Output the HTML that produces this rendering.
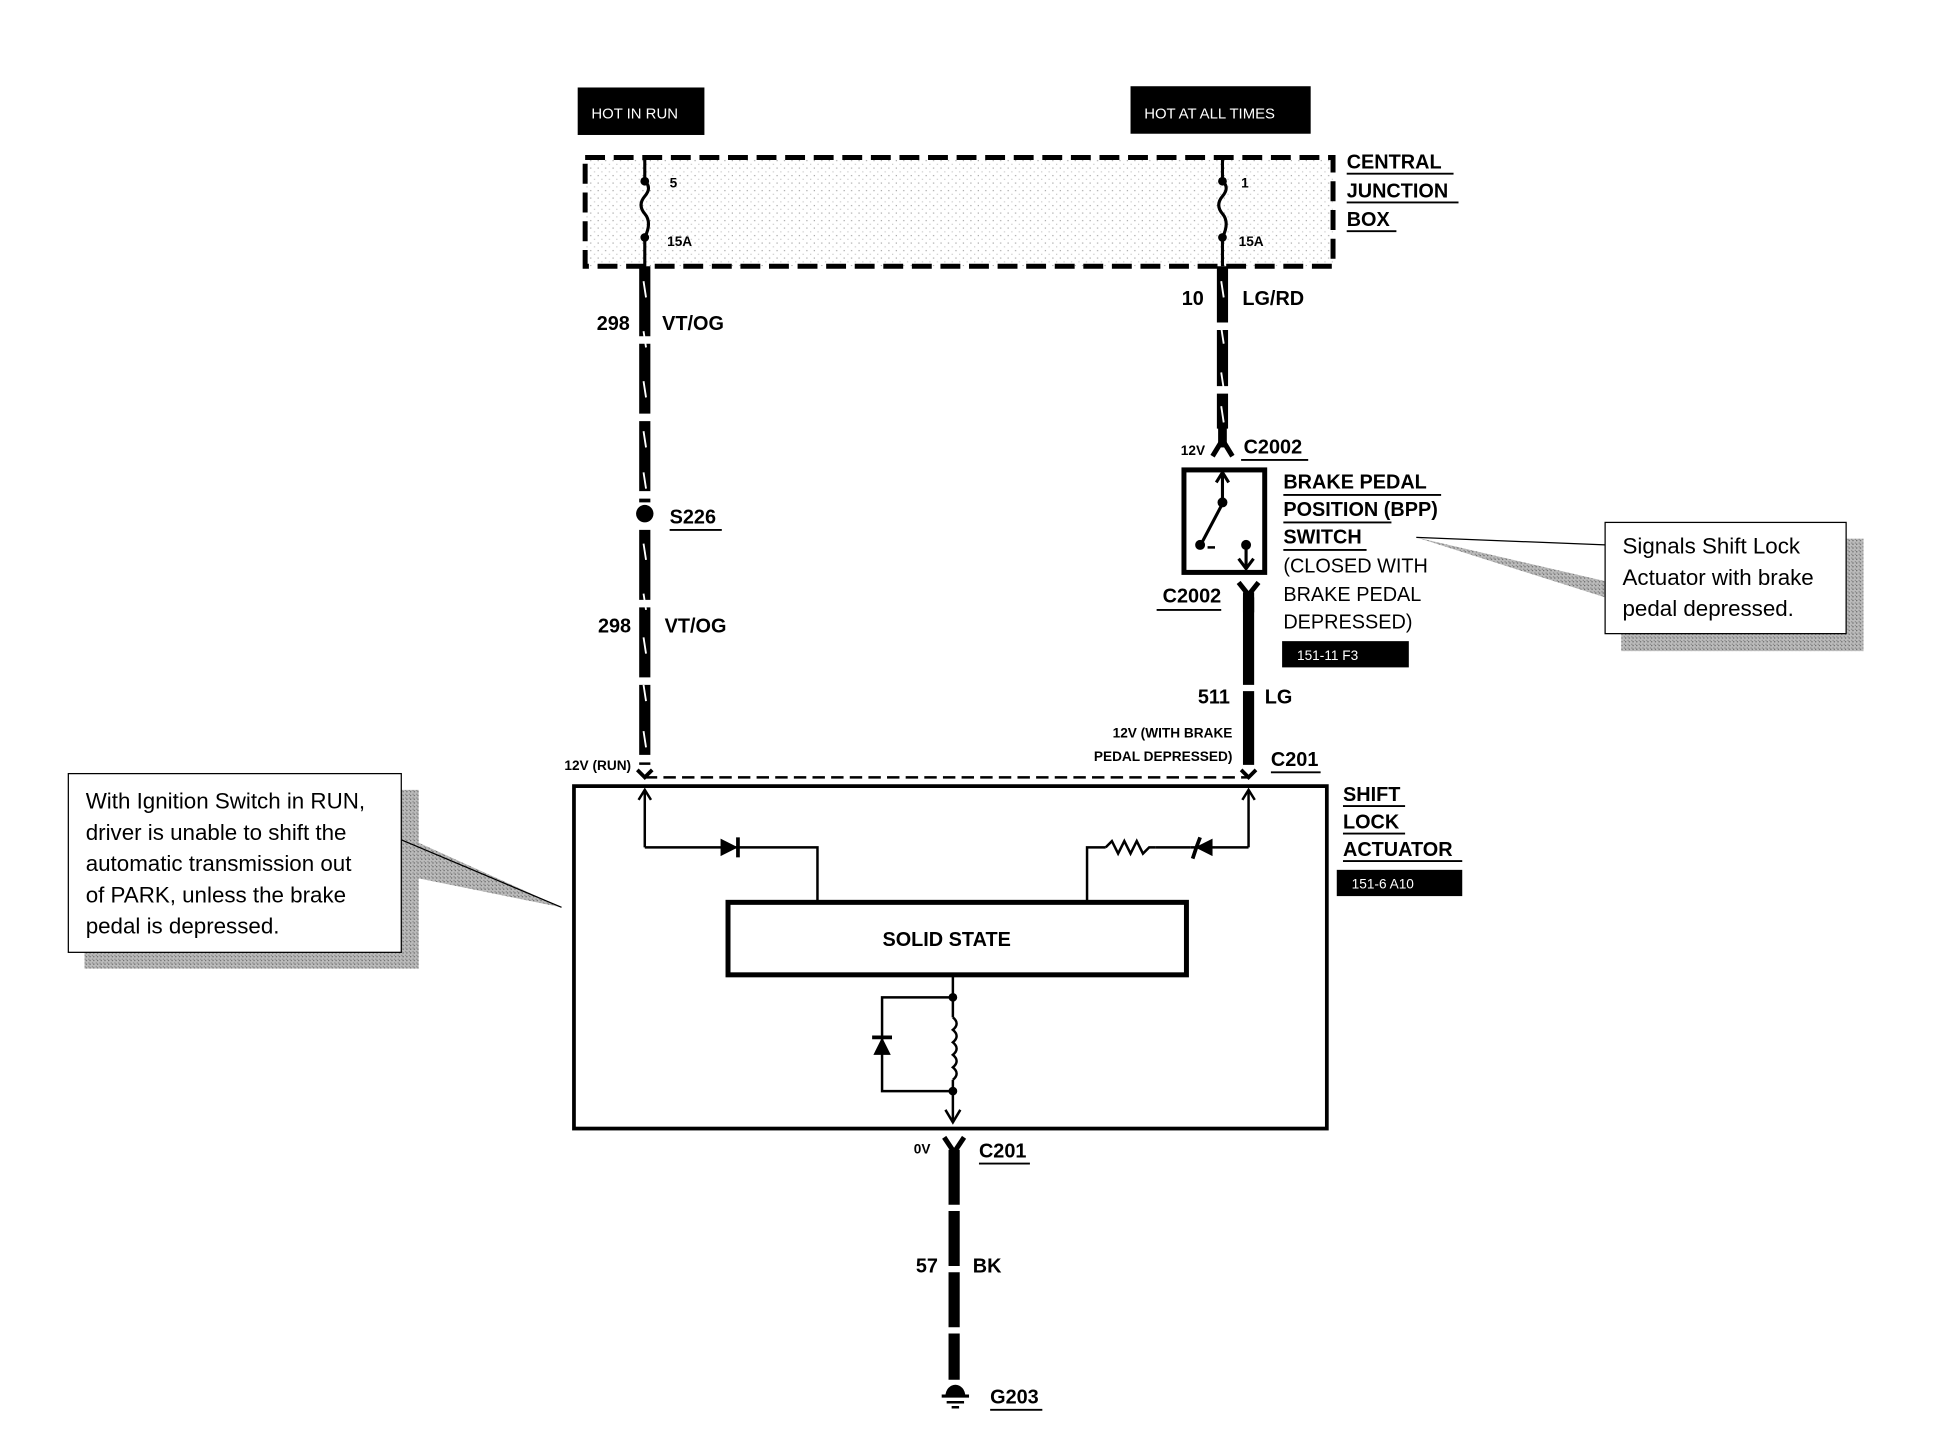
<!DOCTYPE html>
<html><head><meta charset="utf-8"><style>
html,body{margin:0;padding:0;background:#fff;}
svg{display:block;}
text{font-family:"Liberation Sans",sans-serif;fill:#000;}
.b{font-weight:bold;}
</style></head><body>
<svg width="1948" height="1456" viewBox="0 0 1568 1165" preserveAspectRatio="none" xmlns="http://www.w3.org/2000/svg">
<defs>
<pattern id="st" width="6" height="6" patternUnits="userSpaceOnUse"><rect width="6" height="6" fill="#fff"/><rect x="1" y="2" width="1" height="1" fill="#aaa"/><rect x="4" y="5" width="1" height="1" fill="#ccc"/></pattern>
<pattern id="sh" width="3" height="3" patternUnits="userSpaceOnUse"><rect width="3" height="3" fill="#bbb"/><rect width="1" height="1" fill="#666"/><rect x="2" y="2" width="1" height="1" fill="#888"/></pattern>
</defs>
<rect x="465" y="70" width="102" height="38" fill="#000"/>
<text x="476" y="95" font-size="12" style="fill:#fff">HOT IN RUN</text>
<rect x="910" y="69" width="145" height="38" fill="#000"/>
<text x="921" y="95" font-size="12" style="fill:#fff">HOT AT ALL TIMES</text>
<rect x="471" y="126" width="602" height="87" fill="url(#st)" stroke="#000" stroke-width="4" stroke-dasharray="16 7"/>
<text class="b" x="1084" y="135" font-size="16">CENTRAL</text>
<text class="b" x="1084" y="158" font-size="16">JUNCTION</text>
<text class="b" x="1084" y="181" font-size="16">BOX</text>
<line x1="1084" y1="139" x2="1170" y2="139" stroke="#000" stroke-width="1.5"/>
<line x1="1084" y1="162" x2="1174" y2="162" stroke="#000" stroke-width="1.5"/>
<line x1="1084" y1="185" x2="1124" y2="185" stroke="#000" stroke-width="1.5"/>
<g stroke="#000" stroke-width="2.5" fill="none">
<path d="M519 126 V145 q6 5 0 12 q-6 7 0 14 q6 7 0 19 V213"/>
<path d="M984 126 V145 q6 5 0 12 q-6 7 0 14 q6 7 0 19 V213"/>
</g>
<circle cx="519" cy="145" r="3.5"/><circle cx="519" cy="190" r="3.5"/>
<circle cx="984" cy="145" r="3.5"/><circle cx="984" cy="190" r="3.5"/>
<text class="b" x="539" y="150" font-size="11">5</text>
<text class="b" x="537" y="197" font-size="11">15A</text>
<text class="b" x="999" y="150" font-size="11">1</text>
<text class="b" x="997" y="197" font-size="11">15A</text>
<g stroke="#000" stroke-width="9">
<line x1="519" y1="213" x2="519" y2="402" stroke-dasharray="56 6"/>
<line x1="519" y1="424" x2="519" y2="612" stroke-dasharray="56 6"/>
<line x1="984" y1="213" x2="984" y2="343" stroke-dasharray="45 6"/>
<line x1="1005" y1="478" x2="1005" y2="612" stroke-dasharray="70 5"/>
<line x1="768" y1="920" x2="768" y2="1104" stroke-dasharray="44 5"/>
</g>
<g stroke="#fff" stroke-width="1.5">
<line x1="518" y1="225" x2="520" y2="238"/><line x1="518" y1="265" x2="520" y2="278"/><line x1="518" y1="305" x2="520" y2="318"/><line x1="518" y1="345" x2="520" y2="358"/><line x1="518" y1="378" x2="520" y2="391"/>
<line x1="518" y1="435" x2="520" y2="448"/><line x1="518" y1="475" x2="520" y2="488"/><line x1="518" y1="510" x2="520" y2="523"/><line x1="518" y1="548" x2="520" y2="561"/><line x1="518" y1="585" x2="520" y2="598"/>
<line x1="983" y1="225" x2="985" y2="238"/><line x1="983" y1="262" x2="985" y2="275"/><line x1="983" y1="298" x2="985" y2="311"/><line x1="983" y1="325" x2="985" y2="338"/>
</g>
<circle cx="519" cy="411" r="7"/>
<text class="b" x="539" y="419" font-size="16">S226</text>
<line x1="539" y1="424" x2="581" y2="424" stroke="#000" stroke-width="1.5"/>
<text class="b" x="507" y="264" font-size="16" text-anchor="end">298</text>
<text class="b" x="533" y="264" font-size="16">VT/OG</text>
<text class="b" x="508" y="506" font-size="16" text-anchor="end">298</text>
<text class="b" x="535" y="506" font-size="16">VT/OG</text>
<text class="b" x="969" y="244" font-size="16" text-anchor="end">10</text>
<text class="b" x="1000" y="244" font-size="16">LG/RD</text>
<path d="M976 365 L984 352 L992 365" fill="none" stroke="#000" stroke-width="4"/>
<line x1="984" y1="340" x2="984" y2="358" stroke="#000" stroke-width="7"/>
<text class="b" x="970" y="364" font-size="11" text-anchor="end">12V</text>
<text class="b" x="1001" y="363" font-size="16">C2002</text>
<line x1="999" y1="368" x2="1053" y2="368" stroke="#000" stroke-width="1.5"/>
<rect x="953" y="376" width="65" height="82" fill="#fff" stroke="#000" stroke-width="4"/>
<g stroke="#000" stroke-width="2.5" fill="none">
<line x1="984" y1="378" x2="984" y2="400"/><path d="M979 386 L984 378 L989 386"/>
<line x1="984" y1="403" x2="967" y2="435"/>
<line x1="972" y1="438" x2="978" y2="438" stroke-width="2"/>
<line x1="1003" y1="438" x2="1003" y2="455"/><path d="M997 447 L1003 455 L1009 447"/>
</g>
<circle cx="984" cy="402" r="4"/><circle cx="966" cy="436" r="4"/><circle cx="1003" cy="436" r="4"/>
<path d="M997 466 L1005 476 L1013 466" fill="none" stroke="#000" stroke-width="4"/>
<line x1="1005" y1="474" x2="1005" y2="490" stroke="#000" stroke-width="9"/>
<text class="b" x="983" y="482" font-size="16" text-anchor="end">C2002</text>
<line x1="931" y1="488" x2="983" y2="488" stroke="#000" stroke-width="1.5"/>
<text class="b" x="1033" y="391" font-size="16">BRAKE PEDAL</text>
<line x1="1033" y1="396" x2="1160" y2="396" stroke="#000" stroke-width="1.5"/>
<text class="b" x="1033" y="413" font-size="16">POSITION (BPP)</text>
<line x1="1033" y1="418" x2="1120" y2="418" stroke="#000" stroke-width="1.5"/>
<text class="b" x="1033" y="435" font-size="16">SWITCH</text>
<line x1="1033" y1="440" x2="1100" y2="440" stroke="#000" stroke-width="1.5"/>
<text x="1033" y="458" font-size="16">(CLOSED WITH</text>
<text x="1033" y="481" font-size="16">BRAKE PEDAL</text>
<text x="1033" y="503" font-size="16">DEPRESSED)</text>
<rect x="1032" y="513" width="102" height="21" fill="#000"/>
<text x="1044" y="528" font-size="11" style="fill:#fff">151-11 F3</text>
<text class="b" x="990" y="563" font-size="16" text-anchor="end">511</text>
<text class="b" x="1018" y="563" font-size="16">LG</text>
<text class="b" x="992" y="590" font-size="11" text-anchor="end">12V (WITH BRAKE</text>
<text class="b" x="992" y="609" font-size="11" text-anchor="end">PEDAL DEPRESSED)</text>
<text class="b" x="1023" y="613" font-size="16">C201</text>
<line x1="1023" y1="618" x2="1063" y2="618" stroke="#000" stroke-width="1.5"/>
<text class="b" x="508" y="616" font-size="11" text-anchor="end">12V (RUN)</text>
<line x1="519" y1="622" x2="1005" y2="622" stroke="#000" stroke-width="2" stroke-dasharray="10 5"/>
<path d="M513 616 L519 622 L525 616" fill="none" stroke="#000" stroke-width="3"/>
<path d="M999 616 L1005 622 L1011 616" fill="none" stroke="#000" stroke-width="3"/>
<rect x="462" y="629" width="606" height="274" fill="none" stroke="#000" stroke-width="3"/>
<g stroke="#000" stroke-width="2" fill="none">
<line x1="519" y1="632" x2="519" y2="678"/><path d="M514 640 L519 632 L524 640"/>
<polyline points="519,678 658,678 658,722"/>
<line x1="1005" y1="632" x2="1005" y2="678"/><path d="M1000 640 L1005 632 L1010 640"/>
<polyline points="1005,678 875,678 875,722"/>
</g>
<path d="M580 671 L594 678 L580 685 Z" fill="#000"/><line x1="594" y1="670" x2="594" y2="686" stroke="#000" stroke-width="3"/>
<rect x="890" y="674" width="40" height="8" fill="#fff"/>
<path d="M890 678 L895 673 L900 683 L905 673 L910 683 L915 673 L920 683 L925 678 L930 678" fill="none" stroke="#000" stroke-width="2"/>
<rect x="958" y="670" width="20" height="16" fill="#fff"/>
<path d="M976 671 L962 678 L976 685 Z" fill="#000"/><path d="M966 670 L963 678 L960 687" stroke="#000" stroke-width="3" fill="none"/>
<line x1="958" y1="678" x2="978" y2="678" stroke="#000" stroke-width="2"/>
<rect x="586" y="722" width="369" height="58" fill="#fff" stroke="#000" stroke-width="4"/>
<text class="b" x="762" y="757" font-size="16" text-anchor="middle">SOLID STATE</text>
<g stroke="#000" stroke-width="2" fill="none">
<line x1="767" y1="780" x2="767" y2="814"/>
<path d="M767 814 q6 5 0 10 q6 5 0 10 q6 5 0 10 q6 5 0 10 q6 5 0 10"/>
<line x1="767" y1="864" x2="767" y2="898"/>
<path d="M761 888 L767 898 L773 888"/>
<polyline points="767,798 710,798 710,873 767,873"/>
</g>
<circle cx="767" cy="798" r="3.5"/><circle cx="767" cy="873" r="3.5"/>
<path d="M703 844 L710 830 L717 844 Z" fill="#000"/><line x1="702" y1="830" x2="718" y2="830" stroke="#000" stroke-width="3"/>
<path d="M760 910 L768 922 L776 910" fill="none" stroke="#000" stroke-width="4"/>
<text class="b" x="749" y="923" font-size="11" text-anchor="end">0V</text>
<text class="b" x="788" y="926" font-size="16">C201</text>
<line x1="788" y1="931" x2="829" y2="931" stroke="#000" stroke-width="1.5"/>
<text class="b" x="755" y="1018" font-size="16" text-anchor="end">57</text>
<text class="b" x="783" y="1018" font-size="16">BK</text>
<path d="M761 1117 a8 9 0 0 1 16 0 Z" fill="#000"/>
<line x1="758" y1="1117" x2="780" y2="1117" stroke="#000" stroke-width="2.5"/>
<line x1="762" y1="1122" x2="776" y2="1122" stroke="#000" stroke-width="2"/>
<line x1="766" y1="1126" x2="772" y2="1126" stroke="#000" stroke-width="2"/>
<text class="b" x="797" y="1123" font-size="16">G203</text>
<line x1="797" y1="1128" x2="839" y2="1128" stroke="#000" stroke-width="1.5"/>
<text class="b" x="1081" y="641" font-size="16">SHIFT</text>
<line x1="1081" y1="645" x2="1131" y2="645" stroke="#000" stroke-width="1.5"/>
<text class="b" x="1081" y="663" font-size="16">LOCK</text>
<line x1="1081" y1="667" x2="1131" y2="667" stroke="#000" stroke-width="1.5"/>
<text class="b" x="1081" y="685" font-size="16">ACTUATOR</text>
<line x1="1081" y1="689" x2="1177" y2="689" stroke="#000" stroke-width="1.5"/>
<rect x="1076" y="696" width="101" height="21" fill="#000"/>
<text x="1088" y="711" font-size="11" style="fill:#fff">151-6 A10</text>
<rect x="68" y="632" width="269" height="143" fill="url(#sh)"/>
<path d="M323 668 L452 726 L323 700 Z" fill="url(#sh)"/>
<rect x="55" y="619" width="268" height="143" fill="#fff" stroke="#000" stroke-width="1"/>
<line x1="323" y1="672" x2="452" y2="726" stroke="#000" stroke-width="1"/>
<text x="69" y="647" font-size="18">With Ignition Switch in RUN,</text>
<text x="69" y="672" font-size="18">driver is unable to shift the</text>
<text x="69" y="697" font-size="18">automatic transmission out</text>
<text x="69" y="722" font-size="18">of PARK, unless the brake</text>
<text x="69" y="747" font-size="18">pedal is depressed.</text>
<rect x="1305" y="431" width="195" height="90" fill="url(#sh)"/>
<path d="M1140 430 L1292 465 L1292 478 Z" fill="url(#sh)"/>
<rect x="1292" y="418" width="194" height="89" fill="#fff" stroke="#000" stroke-width="1"/>
<line x1="1140" y1="430" x2="1292" y2="436" stroke="#000" stroke-width="1"/>
<text x="1306" y="443" font-size="18">Signals Shift Lock</text>
<text x="1306" y="468" font-size="18">Actuator with brake</text>
<text x="1306" y="493" font-size="18">pedal depressed.</text>
</svg>
</body></html>
